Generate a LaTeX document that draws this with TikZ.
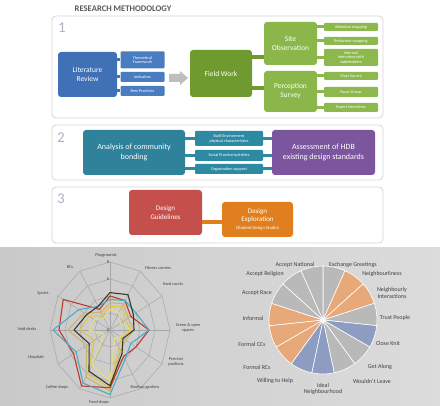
\documentclass[tikz,border=0pt]{standalone}
\usepackage{fontspec}
\setmainfont{Carlito}
\usetikzlibrary{positioning}
\definecolor{panelgray}{HTML}{D6D6D6}
\definecolor{digitgray}{HTML}{A9B3C2}
\definecolor{titlegray}{HTML}{595959}
\definecolor{litblue}{HTML}{4071B7}
\definecolor{smallblue}{HTML}{4A7DC0}
\definecolor{fwgreen}{HTML}{6E9A2F}
\definecolor{sitegreen}{HTML}{8BB64A}
\definecolor{smallgreen}{HTML}{8DB84E}
\definecolor{tealbig}{HTML}{2F8299}
\definecolor{tealsmall}{HTML}{2E8AA3}
\definecolor{hdbpurple}{HTML}{7B559E}
\definecolor{dgred}{HTML}{C5504B}
\definecolor{deorange}{HTML}{E17F1E}
\definecolor{arrowgray}{HTML}{BEBEBE}
\definecolor{piegray}{HTML}{B9B9B9}
\definecolor{pieorange}{HTML}{E7A87A}
\definecolor{pieblue}{HTML}{8C9DC1}
\definecolor{radred}{HTML}{C0392B}
\definecolor{radcyan}{HTML}{4BACC6}
\definecolor{radyellow}{HTML}{E5C34A}
\definecolor{radkhaki}{HTML}{C9B66D}
\definecolor{raddark}{HTML}{3B3828}
\definecolor{radlight}{HTML}{E3DF7E}
\definecolor{labelgray}{HTML}{404040}
\definecolor{bgdark}{HTML}{C9C9C9}
\definecolor{bglight}{HTML}{EFEFEF}
\definecolor{bgmid}{HTML}{DCDCDC}
% one ring or one data line of the spider chart
\newcommand\radarline[3]{%
  \draw[#1] (90:#2) \foreach \v [count=\i] in {#3} { -- ({90-30*\i}:\v)} -- cycle;}

\begin{document}
\begin{tikzpicture}[x=1pt,y=-1pt,
  panel/.style={draw=panelgray,line width=.8pt,rounded corners=4pt},
  bigbox/.style={rounded corners=3pt,text=white,align=center,inner sep=0pt,
    font=\fontsize{7.5}{9}\selectfont},
  smallbox/.style={rounded corners=1pt,text=white,align=center,inner sep=0pt,
    font=\fontsize{4.2}{4.8}\selectfont},
  digit/.style={text=digitgray,font=\fontsize{15}{15}\selectfont},
  bar/.style={line width=3pt},
  grid/.style={draw=gray!70,line width=.5pt},
  series/.style={line width=1.1pt,line join=round},
  radlabel/.style={text=labelgray,font=\fontsize{4.3}{4.8}\selectfont,align=center,inner sep=0pt},
  pielabel/.style={text=labelgray,font=\fontsize{6}{6.8}\selectfont,align=center,inner sep=0pt}]
  \fill[white] (0,0) rectangle (440,406);
  \useasboundingbox (0,0) rectangle (440,406);
  \shade[left color=bgdark,middle color=bglight,right color=bgmid] (0,248) rectangle (440,406);

  \node[text=titlegray,font=\bfseries\fontsize{8.6}{9}\selectfont] (title) at (123,9) {RESEARCH METHODOLOGY};

  % panel 1
  \draw[panel] (52,16) rectangle (383,118);
  \node[digit] (n1) at (62,28) {1};
  \node[bigbox,fill=litblue,minimum width=59pt,minimum height=45pt] (lit) at (87.5,74.5) {Literature\\Review};
  \node[smallbox,fill=smallblue,minimum width=44pt,minimum height=17pt] (theory) at (142.5,60) {Theoretical\\Framework};
  \node[smallbox,fill=smallblue,minimum width=44pt,minimum height=10pt] (indic) at (142.5,77) {Indicators};
  \node[smallbox,fill=smallblue,minimum width=44pt,minimum height=10pt] (best) at (142.5,91) {Best Practices};
  \foreach \b in {theory,indic,best}
    \draw[bar,litblue] (\b.west -| lit.east) -- (\b.west);
  % grey block arrow towards field work
  \coordinate (tip) at (188,78);
  \fill[arrowgray] (tip) -- ++(-8,-7) -- ++(0,3) -- ++(-11,0) -- ++(0,8) -- ++(11,0) -- ++(0,3) -- cycle;
  \node[bigbox,fill=fwgreen,minimum width=62pt,minimum height=47pt] (fw) at (221,73.5) {Field Work};
  \node[bigbox,fill=sitegreen,minimum width=53pt,minimum height=43pt] (site) at (290.5,43.5) {Site\\Observation};
  \node[bigbox,fill=sitegreen,minimum width=53pt,minimum height=41pt] (perc) at (290.5,91.5) {Perception\\Survey};
  \draw[bar,line width=4pt,fwgreen] ([yshift=16.5pt]fw.east) -- ([yshift=16.5pt]fw.east -| site.west);
  \draw[bar,line width=4pt,fwgreen] ([yshift=-14.5pt]fw.east) -- ([yshift=-14.5pt]fw.east -| perc.west);
  \node[smallbox,fill=smallgreen,minimum width=54pt,minimum height=8pt] (attn) at (351,27) {Attention mapping};
  \node[smallbox,fill=smallgreen,minimum width=54pt,minimum height=8pt] (behav) at (351,41) {Behaviour mapping};
  \node[smallbox,fill=smallgreen,minimum width=54pt,minimum height=17pt] (inform) at (351,57.5) {Informal\\interviews with\\stakeholders};
  \node[smallbox,fill=smallgreen,minimum width=54pt,minimum height=8pt] (mass) at (351,76) {Mass Survey};
  \node[smallbox,fill=smallgreen,minimum width=54pt,minimum height=10pt] (focus) at (351,92) {Focus Group};
  \node[smallbox,fill=smallgreen,minimum width=54pt,minimum height=9pt] (expert) at (351,107.5) {Expert Interviews};
  \foreach \b in {attn,behav,inform}
    \draw[bar,sitegreen] (\b.west -| site.east) -- (\b.west);
  \foreach \b in {mass,focus,expert}
    \draw[bar,sitegreen] (\b.west -| perc.east) -- (\b.west);

  % panel 2
  \draw[panel] (52,125) rectangle (383,180);
  \node[digit] (n2) at (61,138) {2};
  \node[bigbox,fill=tealbig,minimum width=102pt,minimum height=45pt,font=\fontsize{8}{10}\selectfont] (bond) at (134,152.5) {Analysis of community\\bonding};
  \node[smallbox,fill=tealsmall,minimum width=68pt,minimum height=15pt] (built) at (229,138.5) {Built Environment\\physical characteristics};
  \node[smallbox,fill=tealsmall,minimum width=68pt,minimum height=11pt] (social) at (229,155.5) {Social Practice/activities};
  \node[smallbox,fill=tealsmall,minimum width=68pt,minimum height=10pt] (organ) at (229,169) {Organization support};
  \node[bigbox,fill=hdbpurple,minimum width=103pt,minimum height=45pt,font=\fontsize{8}{10}\selectfont] (hdb) at (323.5,152.5) {Assessment of HDB\\existing design standards};
  \foreach \b in {built,social,organ} {
    \draw[bar,tealsmall] (\b.west -| bond.east) -- (\b.west);
    \draw[bar,tealsmall] (\b.east) -- (\b.east -| hdb.west);
  }

  % panel 3
  \draw[panel] (52,187) rectangle (383,243);
  \node[digit] (n3) at (61,199) {3};
  \node[bigbox,fill=dgred,minimum width=73pt,minimum height=45pt,font=\fontsize{7}{9}\selectfont] (guide) at (165.5,212.5) {Design\\Guidelines};
  \node[bigbox,fill=deorange,minimum width=71pt,minimum height=35pt,font=\fontsize{7}{8.4}\selectfont] (explore) at (257.5,219.5) {Design\\Exploration\\{\fontsize{4.5}{5}\selectfont(Student Design Studio)}};
  \draw[bar,line width=3.5pt,deorange] ([yshift=-2.5pt]explore.west -| guide.east) -- ([yshift=-2.5pt]explore.west);

  % spider chart of facilities
  \begin{scope}[shift={(110,330)},x=60pt,y=68pt]
    \foreach \r in {0.25,0.5,0.75,1}
      \radarline{grid}{\r}{\r,\r,\r,\r,\r,\r,\r,\r,\r,\r,\r};
    \foreach \i in {0,...,11}
      \draw[grid] (0,0) -- ({90-30*\i}:1);
    \node[radlabel,anchor=east] (t8) at (90:1) {8\,};
    \node[radlabel,anchor=east] (t6) at (90:.75) {6\,};
    \node[radlabel,anchor=east] (t0) at (0,0) {0\,};
    \radarline{series,radlight}{.3}{.3,.2,.35,.2,.15,.75,.6,.12,.35,.3,.2}
    \radarline{series,radyellow}{.35}{.4,.3,.35,.22,.3,.85,.75,.3,.5,.4,.25}
    \radarline{series,radkhaki}{.4}{.45,.35,.4,.3,.35,.9,.8,.45,.7,.5,.3}
    \radarline{series,radred}{.5}{.5,.4,.65,.5,.45,.85,.95,.7,.85,.9,.35}
    \radarline{series,radcyan}{.45}{.5,.5,.65,.4,.5,.95,.9,.65,.95,.6,.4}
    \radarline{series,raddark}{.55}{.6,.45,.4,.25,.4,.82,.7,.4,.6,.45,.4}
  \end{scope}
  \node[radlabel] (play) at (106,255) {Playgrounds};
  \node[radlabel] (fit) at (158,268) {Fitness corners};
  \node[radlabel] (hard) at (173,284) {Hard courts};
  \node[radlabel] (green) at (188,328) {Green \& open\\spaces};
  \node[radlabel] (prec) at (176,362) {Precinct\\pavilions};
  \node[radlabel] (roof) at (145,387) {Rooftop gardens};
  \node[radlabel] (food) at (99,402) {Food shops};
  \node[radlabel] (coffee) at (57,387) {Coffee shops};
  \node[radlabel] (hosp) at (36,357) {Hospitals};
  \node[radlabel] (void) at (27,329) {Void decks};
  \node[radlabel] (sport) at (43,293) {Sports};
  \node[radlabel] (rcs) at (70,267) {RCs};

  % pie chart of community bonding
  \begin{scope}[shift={(323,320)},y=1pt]
    \foreach \a/\c in {0/piegray,24/pieorange,48/pieorange,72/piegray,96/pieblue,
        120/piegray,144/piegray,168/pieblue,192/pieblue,216/pieorange,240/pieorange,
        264/pieorange,288/piegray,312/piegray,336/piegray}
      \filldraw[fill=\c,draw=white,line width=.6pt] (0,0) -- ({90-\a}:54)
        arc[start angle={90-\a},end angle={66-\a},radius=54] -- cycle;
  \end{scope}
  \node[pielabel] (nation) at (295,265) {Accept National};
  \node[pielabel] (greet) at (353,265) {Exchange Greetings};
  \node[pielabel] (neigh) at (382,274) {Neighbourliness};
  \node[pielabel] (inter) at (392,293) {Neighbourly\\Interactions};
  \node[pielabel] (trust) at (395,318) {Trust People};
  \node[pielabel] (knit) at (388,343) {Close Knit};
  \node[pielabel] (along) at (380,367) {Get Along};
  \node[pielabel] (leave) at (372,381) {Wouldn't Leave};
  \node[pielabel] (ideal) at (323,389) {Ideal\\Neighbourhood};
  \node[pielabel] (help) at (275,381) {Willing to Help};
  \node[pielabel] (frcs) at (257,367) {Formal RCs};
  \node[pielabel] (fccs) at (252,344) {Formal CCs};
  \node[pielabel] (informal) at (253,318) {Informal};
  \node[pielabel] (race) at (257,293) {Accept Race};
  \node[pielabel] (relig) at (265,274) {Accept Religion};
\end{tikzpicture}
\end{document}
